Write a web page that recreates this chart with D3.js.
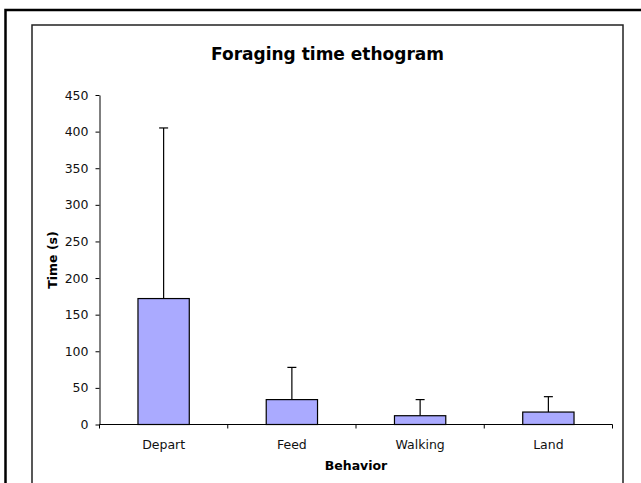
<!DOCTYPE html>
<html lang="en">
  <head>
    <meta charset="utf-8" />
    <title>Foraging time ethogram</title>
    <style>
      body { margin: 0; background: #fff; }
      svg { display: block; font-family: "DejaVu Sans", Verdana, sans-serif; }
    </style>
  </head>
  <body>
    <div id="chart"></div>
    <script src="https://d3js.org/d3.v7.min.js"></script>
    <script>
      // data
      var behaviors = ["Depart", "Feed", "Walking", "Land"];
      var meanTime = [172, 34, 12, 17];
      var errTime = [233, 44, 22, 21];
      var yTicks = [0, 50, 100, 150, 200, 250, 300, 350, 400, 450];

      var width = 641,
        height = 483;

      var svg = d3
        .select("#chart")
        .append("svg")
        .attr("width", width)
        .attr("height", height);

      svg.append("rect").attr("width", width).attr("height", height).attr("fill", "#fff");

      // outer and inner frames (run off the right / bottom edge)
      svg
        .append("rect")
        .attr("x", 5.5)
        .attr("y", 10)
        .attr("width", 660)
        .attr("height", 500)
        .attr("fill", "none")
        .attr("stroke", "#000")
        .attr("stroke-width", 2.5);

      svg
        .append("rect")
        .attr("x", 32)
        .attr("y", 25)
        .attr("width", 591)
        .attr("height", 480)
        .attr("fill", "none")
        .attr("stroke", "#222")
        .attr("stroke-width", 1.5);

      var x = d3
        .scaleBand()
        .domain(behaviors)
        .range([99.5, 612.5])
        .paddingInner(0.6)
        .paddingOuter(0.3);

      var y = d3.scaleLinear().domain([0, 450]).range([424.5, 95]);

      // title
      svg
        .append("text")
        .attr("x", 327.5)
        .attr("y", 60)
        .attr("text-anchor", "middle")
        .attr("font-size", "17px")
        .attr("font-weight", "bold")
        .text("Foraging time ethogram");

      // y axis
      var yAxis = d3
        .axisLeft(y)
        .tickValues(yTicks)
        .tickSize(4)
        .tickPadding(7)
        .tickSizeOuter(0);

      var gy = svg
        .append("g")
        .attr("transform", "translate(99.5,0)")
        .call(yAxis);
      gy.select(".domain").attr("stroke", "#000");
      gy.selectAll(".tick line").attr("stroke", "#000");
      gy.selectAll(".tick text")
        .attr("font-size", "12.5px")
        .attr("fill", "#111")
        .attr("font-family", "DejaVu Sans, Verdana, sans-serif");

      // bars
      var data = behaviors.map(function (d, i) {
        return { name: d, mean: meanTime[i], err: errTime[i] };
      });

      // error bars (upper only)
      var eb = svg.append("g").attr("class", "errors");
      eb.selectAll("line.stem")
        .data(data)
        .enter()
        .append("line")
        .attr("class", "stem")
        .attr("x1", function (d) { return x(d.name) + x.bandwidth() / 2; })
        .attr("x2", function (d) { return x(d.name) + x.bandwidth() / 2; })
        .attr("y1", function (d) { return y(d.mean); })
        .attr("y2", function (d) { return y(d.mean + d.err); })
        .attr("stroke", "#000")
        .attr("stroke-width", 1.2);
      eb.selectAll("line.cap")
        .data(data)
        .enter()
        .append("line")
        .attr("class", "cap")
        .attr("x1", function (d) { return x(d.name) + x.bandwidth() / 2 - 4.5; })
        .attr("x2", function (d) { return x(d.name) + x.bandwidth() / 2 + 4.5; })
        .attr("y1", function (d) { return y(d.mean + d.err); })
        .attr("y2", function (d) { return y(d.mean + d.err); })
        .attr("stroke", "#000")
        .attr("stroke-width", 1.2);

      svg
        .append("g")
        .selectAll("rect")
        .data(data)
        .enter()
        .append("rect")
        .attr("x", function (d) { return x(d.name); })
        .attr("y", function (d) { return y(d.mean); })
        .attr("width", x.bandwidth())
        .attr("height", function (d) { return y(0) - y(d.mean); })
        .attr("fill", "#aaaaff")
        .attr("stroke", "#000")
        .attr("stroke-width", 1.2);

      // x axis: line, ticks at category boundaries, labels at centres
      var gx = svg.append("g").attr("class", "x axis");
      var x0 = x.range()[0],
        x1 = x.range()[1];
      gx.append("line")
        .attr("x1", x0)
        .attr("x2", x1)
        .attr("y1", y(0))
        .attr("y2", y(0))
        .attr("stroke", "#000")
        .attr("stroke-width", 1.2);
      var bounds = d3.range(behaviors.length + 1).map(function (i) {
        return x0 + i * x.step();
      });
      gx.selectAll("line.tk")
        .data(bounds)
        .enter()
        .append("line")
        .attr("class", "tk")
        .attr("x1", function (d) { return d; })
        .attr("x2", function (d) { return d; })
        .attr("y1", y(0))
        .attr("y2", y(0) + 4)
        .attr("stroke", "#000");
      gx.selectAll("text")
        .data(behaviors)
        .enter()
        .append("text")
        .attr("x", function (d) { return x(d) + x.bandwidth() / 2; })
        .attr("y", 449)
        .attr("text-anchor", "middle")
        .attr("font-size", "12.5px")
        .attr("fill", "#111")
        .text(function (d) { return d; });

      // axis titles
      svg
        .append("text")
        .attr("x", 356)
        .attr("y", 470)
        .attr("text-anchor", "middle")
        .attr("font-size", "12.5px")
        .attr("font-weight", "bold")
        .text("Behavior");

      svg
        .append("text")
        .attr("transform", "translate(57,260) rotate(-90)")
        .attr("text-anchor", "middle")
        .attr("font-size", "12.5px")
        .attr("font-weight", "bold")
        .text("Time (s)");
    </script>
  </body>
</html>
